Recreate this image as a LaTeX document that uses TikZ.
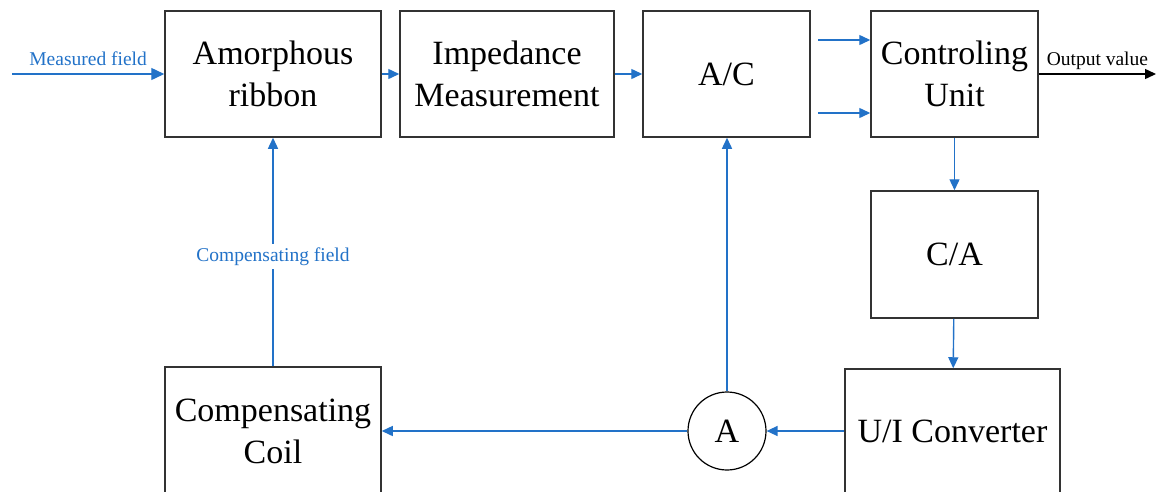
\documentclass[tikz,border=0pt]{standalone}
\usepackage{fontspec}
\setmainfont{Liberation Serif}
\usetikzlibrary{positioning,arrows.meta}
\definecolor{SigBlue}{HTML}{2272C8}
\definecolor{BoxLine}{HTML}{333333}

\begin{document}
\begin{tikzpicture}[x=1pt,y=1pt,>={Triangle[length=11pt,width=10pt]}]
  \tikzstyle{blk}=[draw=BoxLine,line width=1.5pt,minimum height=126pt,
    inner sep=0pt,align=center,font=\fontsize{34}{42}\selectfont]
  \tikzstyle{sig}=[->,color=SigBlue,line width=1.4pt]
  \tikzstyle{lbl}=[font=\fontsize{19.5}{22}\selectfont,text=SigBlue]
  \useasboundingbox (0,0) rectangle (1156,-491);
  % upper chain
  \node[blk,minimum width=216pt] (rib) at (273,-74) {Amorphous\\ribbon};
  \node[blk,minimum width=214pt,right=17.5pt of rib] (imp) {Impedance\\Measurement};
  \node[blk,minimum width=167pt,right=27.5pt of imp] (ac) {A/C};
  \node[blk,minimum width=167pt,right=59.5pt of ac] (ctrl) {Controling\\Unit};
  % feedback side
  \node[blk,minimum width=167pt,minimum height=127pt,below=52.5pt of ctrl] (ca) {C/A};
  \node[blk,minimum width=215pt,minimum height=124pt] (ui) at (952.5,-431) {U/I Converter};
  \node[blk,minimum width=216pt,minimum height=128pt] (coil) at (273,-431) {Compensating\\Coil};
  \node[draw=black,line width=1.2pt,circle,minimum size=78pt,inner sep=0pt,
    font=\fontsize{34}{42}\selectfont] (amp) at (727,-431) {A};
  \coordinate (src) at (12,-74);
  \coordinate (in1) at (818,-40);
  \coordinate (in2) at (818,-113);
  \coordinate (out) at (1156,-74);

  \draw[sig,>={Triangle[length=13pt,width=12pt]}] (src) -- node[lbl,above,yshift=4pt] {Measured field} (rib);
  \draw[sig] (rib) -- (imp);
  \draw[sig] (imp) -- (ac);
  \draw[sig] (in1) -- (in1 -| ctrl.west);
  \draw[sig] (in2) -- (in2 -| ctrl.west);
  \draw[->,line width=1.4pt] (ctrl) -- node[above,font=\fontsize{19.5}{22}\selectfont] {Output value} (out);
  \draw[sig] (ctrl) -- (ca);
  \draw[sig] (ca) -- (ui);
  \draw[sig] (ui) -- (amp);
  \draw[sig] (amp) -- (coil);
  \draw[sig] (amp.north) -- (amp.north |- ac.south);
  \draw[sig] (coil) -- node[lbl,fill=white,pos=0.48] {Compensating field} (rib);
\end{tikzpicture}
\end{document}
